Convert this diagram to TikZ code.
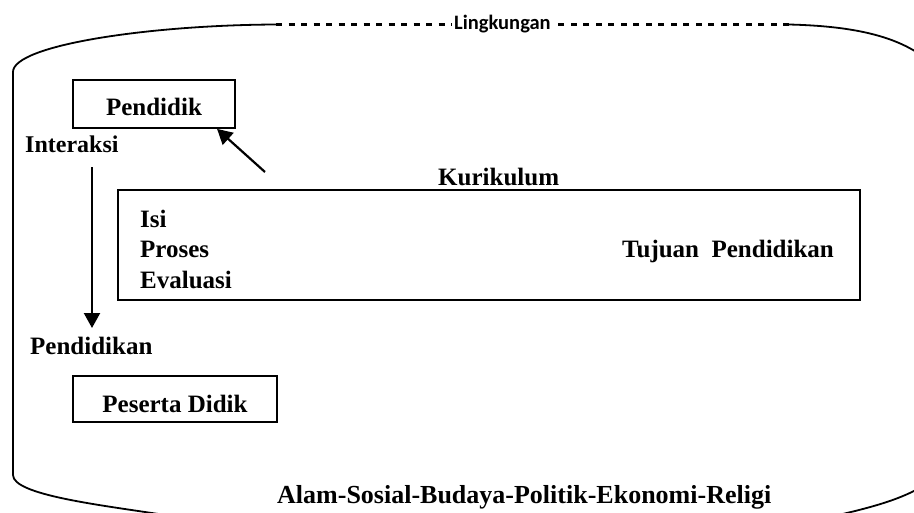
\documentclass[tikz,border=0pt]{standalone}
\usepackage{fontspec}
\setmainfont{Liberation Serif}
\newfontfamily\lingfont{Carlito}
\usetikzlibrary{arrows.meta,calc}
\begin{document}
\begin{tikzpicture}[x=1pt,y=-1pt,
  lbl/.style={font=\fontsize{25}{30}\selectfont\bfseries, inner sep=0pt, anchor=base west},
  boxnode/.style={draw, line width=1.8pt, inner sep=0pt, font=\fontsize{25}{30}\selectfont\bfseries, text depth=0pt},
  outline/.style={line width=1.8pt},
  dashline/.style={line width=2.3pt, dash pattern=on 6pt off 6.5pt},
  arr/.style={line width=2.2pt, -{Triangle[width=16pt,length=15pt]}}]
\useasboundingbox (0,0) rectangle (914,512);
% outer environment outline
\coordinate (tl) at (276,24.5);
\coordinate (tr) at (789,24.5);
\begin{scope}
\clip (0,0) rectangle (914,512);
\draw[outline] (tl) .. controls (150,25) and (13,45) .. (13,72) -- (13,475) .. controls (13,495) and (100,505) .. (165,515);
\draw[outline] (tr) .. controls (850,26) and (895,35) .. (925,58);
\draw[outline] (825,518) .. controls (870,508) and (900,500) .. (925,485);
\end{scope}
\node[lbl, font=\lingfont\bfseries\fontsize{20.5}{24}\selectfont] (ling) at (454,29) {Lingkungan};
\draw[dashline] (tl) -- ([xshift=-2pt]ling.west |- tl);
\draw[dashline] (tr) -- ([xshift=4pt]ling.east |- tr);
% boxes
\node[boxnode, minimum width=162pt, minimum height=48pt, text height=22pt] (pendidik) at (154,104) {Pendidik};
\node[boxnode, minimum width=204pt, minimum height=46pt, text height=26pt] (peserta) at (175,399) {Peserta Didik};
\node[draw, line width=1.8pt, minimum width=742pt, minimum height=110pt, inner sep=0pt] (kurbox) at (489,245) {};
% labels
\node[lbl] (kurikulum) at (438,185) {Kurikulum};
\node[lbl] (isi) at (140,227) {Isi};
\node[lbl] (proses) at (140,257.5) {Proses};
\node[lbl] (evaluasi) at (140,288) {Evaluasi};
\node[lbl] (tujuan) at (622,257) {Tujuan\hspace{0.5em}Pendidikan};
\node[lbl, font=\fontsize{24}{28}\selectfont\bfseries] (interaksi) at (25,152) {Interaksi};
\node[lbl] (pendidikan) at (30,354) {Pendidikan};
\node[lbl, font=\fontsize{26}{30}\selectfont\bfseries] (alam) at (277,503) {Alam-Sosial-Budaya-Politik-Ekonomi-Religi};
% arrows
\coordinate (dstart) at (92,167);
\coordinate (dend) at (92,328);
\draw[arr] (dstart) -- (dend);
\coordinate (kstart) at (265,172);
\coordinate (ptip) at ($(pendidik.south west)!0.885!(pendidik.south east)$);
\draw[arr] (kstart) -- (ptip);
\end{tikzpicture}
\end{document}
